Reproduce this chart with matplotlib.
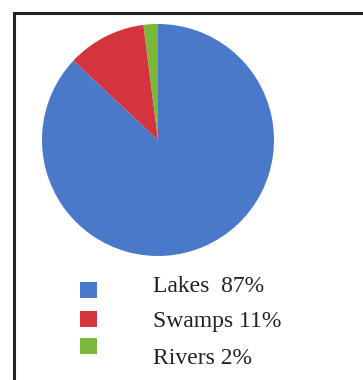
import matplotlib
matplotlib.use("Agg")
import matplotlib.pyplot as plt
from matplotlib.patches import Rectangle
from matplotlib.lines import Line2D

categories = ["Lakes", "Swamps", "Rivers"]
values = [87, 11, 2]
labels = ["Lakes  87%", "Swamps 11%", "Rivers 2%"]
colors = ["#4a79c9", "#d3343d", "#79b83a"]

W, H = 363, 380
fig = plt.figure(figsize=(W / 100, H / 100), dpi=100)
fig.patch.set_facecolor("white")

# pie axes (pixel box: x 42..274, y 24..256)
cx, cy, r = 158, 140, 116
ax = fig.add_axes([(cx - r) / W, (H - (cy + r)) / H, 2 * r / W, 2 * r / H])
ax.pie(values, colors=colors, startangle=90, counterclock=False,
       radius=1.0, wedgeprops=dict(linewidth=0))
ax.set_xlim(-1, 1)
ax.set_ylim(-1, 1)
ax.set_aspect("auto")
ax.axis("off")

# overlay in pixel coordinates
ov = fig.add_axes([0, 0, 1, 1])
ov.set_xlim(0, W)
ov.set_ylim(H, 0)
ov.axis("off")
ov.patch.set_alpha(0)

# frame lines (left and top)
ov.add_line(Line2D([14, 14], [13, H], color="#222222", linewidth=2.2))
ov.add_line(Line2D([14, W], [13, 13], color="#222222", linewidth=2.2))

# legend
sq_centers = [290, 319, 346]
baselines = [292, 327, 364]
for c, lab, yc, yb in zip(colors, labels, sq_centers, baselines):
    ov.add_patch(Rectangle((80, yc - 8), 16.5, 16, facecolor=c, edgecolor="none"))
    ov.text(153, yb, lab, fontsize=17, family="Liberation Serif",
            color="#222222", ha="left", va="baseline")

fig.savefig("out.png", dpi=100, facecolor="white")
